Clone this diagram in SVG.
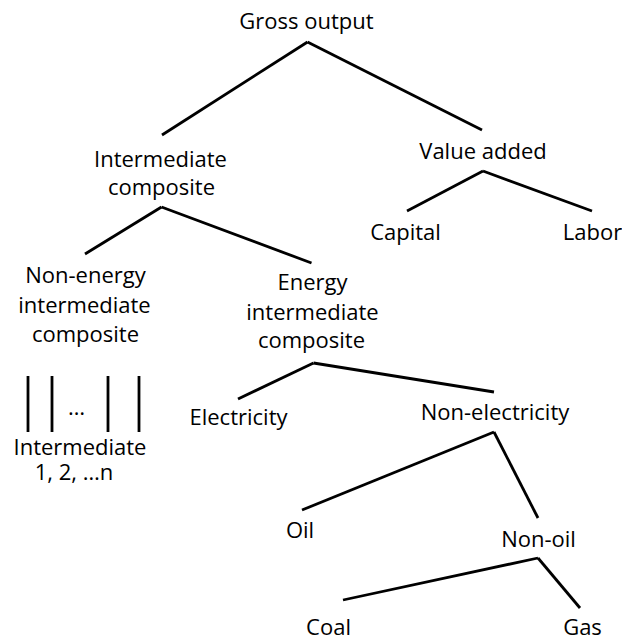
<svg xmlns="http://www.w3.org/2000/svg" width="622" height="641" viewBox="0 0 622 641">
<style>
text{font-family:"Open Sans","Liberation Sans",sans-serif;font-size:22px;fill:#000;text-anchor:middle}
.c line{stroke:#000;stroke-width:2.8;stroke-linecap:butt}
</style>
<rect width="622" height="641" fill="#fff"/>
<g id="connectors" class="c">
<line x1="307.5" y1="42" x2="162" y2="135"/>
<line x1="307.5" y1="42" x2="482" y2="130"/>
<line x1="483" y1="171" x2="407" y2="211"/>
<line x1="483" y1="171" x2="592" y2="211"/>
<line x1="161.5" y1="207" x2="85" y2="254"/>
<line x1="161.5" y1="207" x2="311.5" y2="263"/>
<line x1="313.5" y1="363" x2="238" y2="399"/>
<line x1="313.5" y1="363" x2="494" y2="392"/>
<line x1="494" y1="432" x2="302" y2="510"/>
<line x1="494" y1="432" x2="538" y2="518"/>
<line x1="538" y1="558" x2="343" y2="600"/>
<line x1="538" y1="558" x2="580" y2="608"/>
<line x1="28" y1="376" x2="28" y2="432"/>
<line x1="52" y1="376" x2="52" y2="432"/>
<line x1="108" y1="376" x2="108" y2="432"/>
<line x1="139" y1="376" x2="139" y2="432"/>
</g>
<g id="gross-output"><text x="306.5" y="29">Gross output</text></g>
<g id="intermediate-composite"><text x="160.5" y="167">Intermediate</text><text x="161.5" y="195">composite</text></g>
<g id="value-added"><text x="483" y="159">Value added</text></g>
<g id="capital"><text x="405.5" y="240">Capital</text></g>
<g id="labor"><text x="592.5" y="240">Labor</text></g>
<g id="non-energy"><text x="85.5" y="283">Non-energy</text><text x="84.5" y="313">intermediate</text><text x="85.5" y="342">composite</text></g>
<g id="energy"><text x="312.5" y="290">Energy</text><text x="312.5" y="320">intermediate</text><text x="311.5" y="348">composite</text></g>
<g id="ellipsis"><text x="76.5" y="415">…</text></g>
<g id="intermediate-n"><text x="80" y="455">Intermediate</text><text x="74" y="480">1, 2, …n</text></g>
<g id="electricity"><text x="238.5" y="425">Electricity</text></g>
<g id="non-electricity"><text x="495" y="420">Non-electricity</text></g>
<g id="oil"><text x="300" y="538">Oil</text></g>
<g id="non-oil"><text x="538.5" y="547">Non-oil</text></g>
<g id="coal"><text x="328.5" y="635">Coal</text></g>
<g id="gas"><text x="582.5" y="635">Gas</text></g>
</svg>
